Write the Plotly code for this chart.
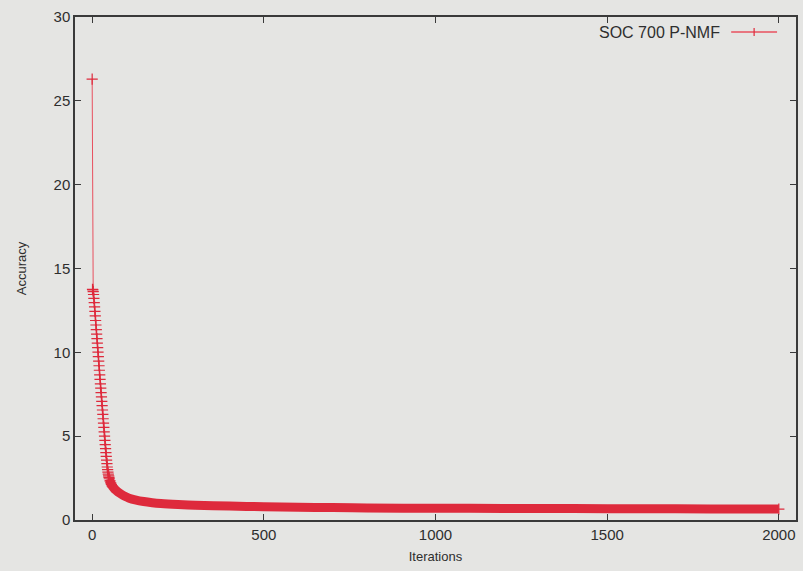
import plotly.graph_objects as go

# Head of the curve: every iteration
head_iter = list(range(0, 51)) + [52, 54, 56, 58, 60]
head_acc = [26.3, 13.75, 13.72, 13.62, 13.45, 13.22, 12.97, 12.71, 12.44, 12.17,
            11.90, 11.63, 11.36, 11.09, 10.82, 10.55, 10.28, 10.01, 9.74, 9.47,
            9.20, 8.93, 8.66, 8.39, 8.12, 7.86, 7.60, 7.34, 7.08, 6.82,
            6.56, 6.30, 6.04, 5.78, 5.52, 5.26, 5.00, 4.75, 4.50, 4.26,
            4.02, 3.79, 3.57, 3.36, 3.16, 3.00, 2.86, 2.74, 2.63, 2.54,
            2.46, 2.33, 2.22, 2.12, 2.04, 1.97]

# Tail of the curve (dense markers merge into a solid band)
tail_iter = [50, 52, 54, 56, 58, 60, 65, 70, 80, 90, 100, 110, 125, 150, 175, 200,
             250, 300, 400, 500, 600, 700, 800, 1000, 1200, 1400, 1600, 1800, 2000]
tail_acc = [2.46, 2.33, 2.22, 2.12, 2.04, 1.97, 1.85, 1.76, 1.60, 1.47, 1.37,
            1.28, 1.20, 1.10, 1.03, 0.98, 0.92, 0.88, 0.83, 0.79, 0.76, 0.74, 0.72, 0.70,
            0.69, 0.68, 0.67, 0.66, 0.65]

x_ticks = [0, 500, 1000, 1500, 2000]
y_ticks = [0, 5, 10, 15, 20, 25, 30]

RED = "#de2a3c"
BG = "#e5e5e3"
AX = "#3a3a3a"
TXT = "#2e2e2e"
FONT = "Liberation Sans, Arial, sans-serif"

fig = go.Figure()
fig.add_trace(go.Scatter(x=tail_iter, y=tail_acc, mode="lines",
                         line=dict(color=RED, width=9, shape="spline", smoothing=0.8),
                         showlegend=False, hoverinfo="skip"))
fig.add_trace(go.Scatter(x=head_iter, y=head_acc, mode="lines+markers",
                         name="SOC 700 P-NMF",
                         line=dict(color="#e8505f", width=1),
                         marker=dict(symbol="cross-thin", size=8,
                                     line=dict(color=RED, width=1.2)),
                         showlegend=False))
# end marker
fig.add_trace(go.Scatter(x=[tail_iter[-1]], y=[tail_acc[-1]], mode="markers",
                         marker=dict(symbol="cross-thin", size=8,
                                     line=dict(color=RED, width=1.2)),
                         showlegend=False))

axis_common = dict(showgrid=False, zeroline=False, showline=True, linecolor=AX,
                   linewidth=1.5, mirror="ticks", ticks="inside", ticklen=6,
                   tickwidth=1.2, tickcolor=AX,
                   tickfont=dict(family=FONT, size=15, color=TXT))

fig.update_xaxes(range=[-50, 2050], tickvals=x_ticks,
                 title=dict(text="Iterations", font=dict(family=FONT, size=13, color=TXT),
                            standoff=10),
                 **axis_common)
fig.update_yaxes(range=[0, 30], tickvals=y_ticks,
                 title=dict(text="Accuracy", font=dict(family=FONT, size=13, color=TXT),
                            standoff=24),
                 **axis_common)

# Legend (gnuplot style: text then sample)
def px(xp):
    return (xp - 75) / 723.0

def py(yp):
    return (520 - yp) / 503.0

fig.add_annotation(x=px(724), y=py(32), xref="paper", yref="paper",
                   text="SOC 700 P-NMF", showarrow=False, xanchor="right",
                   yanchor="middle", font=dict(family=FONT, size=16, color=TXT))
fig.add_shape(type="line", xref="paper", yref="paper",
              x0=px(733), x1=px(779), y0=py(32), y1=py(32),
              line=dict(color="#e8505f", width=1.5))
fig.add_shape(type="line", xref="paper", yref="paper",
              x0=px(756), x1=px(756), y0=py(28), y1=py(36),
              line=dict(color=RED, width=1.2))

fig.update_layout(width=803, height=571, paper_bgcolor=BG, plot_bgcolor=BG,
                  margin=dict(l=75, r=5, t=17, b=51), showlegend=False)

fig.write_html("out.html", config={"displayModeBar": False},
               post_script="document.body.style.margin='0';document.body.style.padding='0';"
                           "document.body.style.overflow='hidden';"
                           "document.body.style.background='" + BG + "';")
